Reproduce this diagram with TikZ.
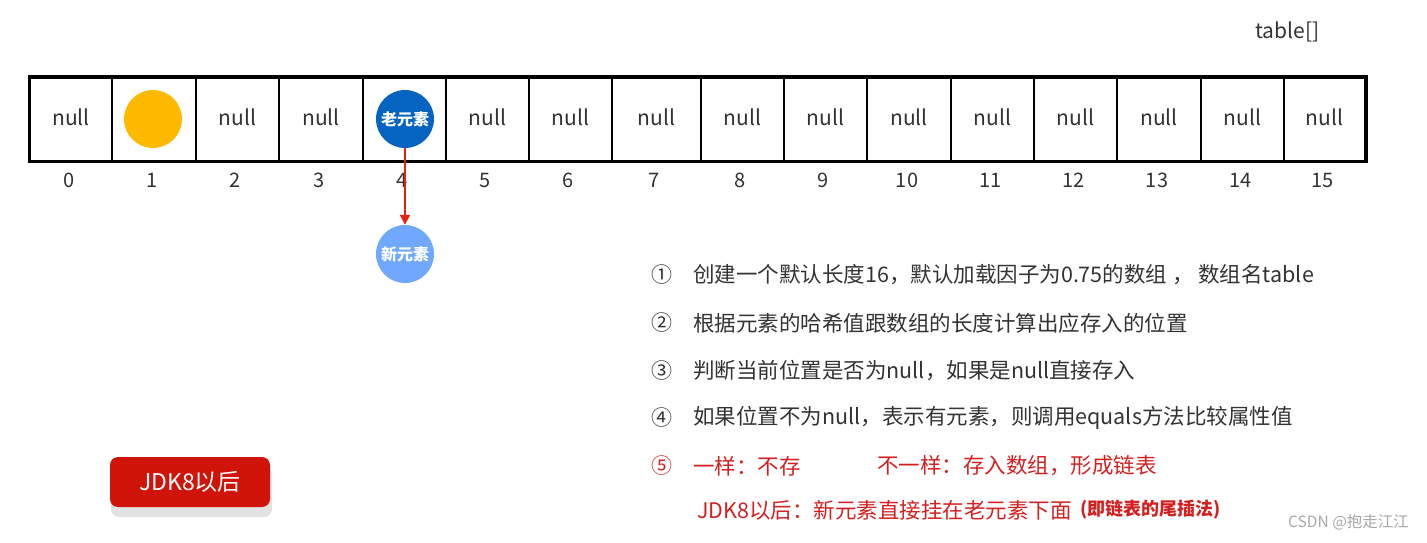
\documentclass[tikz,border=0pt]{standalone}
\usepackage{fontspec}
\setmainfont{Noto Sans CJK SC}
\usetikzlibrary{arrows.meta}
\definecolor{txt}{HTML}{333333}
\definecolor{yel}{HTML}{FFBA00}
\definecolor{oldblue}{HTML}{0563C1}
\definecolor{newblue}{HTML}{6FA8FC}
\definecolor{redtxt}{HTML}{D42020}
\definecolor{arrred}{HTML}{E82010}
\definecolor{btnred}{HTML}{D0140A}
\definecolor{shadowgray}{HTML}{E2E2E2}
\definecolor{wm}{HTML}{A8A8A8}
\tikzset{
  cell/.style={draw=black, line width=2pt, inner sep=0pt, minimum height=83pt},
  celltext/.style={text=txt, font=\fontsize{21}{21}\selectfont, inner sep=0pt},
  idx/.style={text=txt, font=\fontsize{20}{20}\selectfont, inner sep=0pt},
  ball/.style={circle, inner sep=0pt, minimum size=58pt, text=white, font=\fontsize{16}{16}\selectfont\bfseries},
  item/.style={anchor=west, inner sep=0pt, text=txt, font=\fontsize{21.5}{21.5}\selectfont},
  num/.style={anchor=center, inner sep=0pt, text=txt, font=\fontsize{21}{21}\selectfont},
  link/.style={draw=arrred, line width=2pt, -{Triangle[length=10pt,width=10pt]}},
}
\begin{document}
\begin{tikzpicture}[x=1pt,y=-1pt]
\useasboundingbox (0,0) rectangle (1427,542);
% cells
\foreach \i/\a/\b in {0/30/112,1/112/196,2/196/279,3/279/363,4/363/446,5/446/529,6/529/612,7/612/701,8/701/784,9/784/867,10/867/951,11/951/1034,12/1034/1117,13/1117/1201,14/1201/1284,15/1284/1365}{
  \node[cell, minimum width={(\b-\a)*1pt}] (c\i) at ({(\a+\b)/2},119) {};
  \node[idx] (i\i) at ({(\a+\b)/2-2},180) {\i};
}
\draw[line width=3pt] (c0.north west) rectangle (c15.south east);
\foreach \i in {0,2,3,5,6,7,8,9,10,11,12,13,14,15}{
  \node[celltext] (n\i) at ([yshift=2pt]c\i.center) {null};
}
\node[ball, fill=yel] (yb) at (153,119) {};
\node[ball, fill=oldblue] (old) at (405,119) {老元素};
\node[ball, fill=newblue] (new) at (405,254) {新元素};
\draw[link] (old) -- (new);
% title
\node[celltext, anchor=west] (tbl) at (1255,32) {table[]};
% list
\node[num] (k1) at (662,275) {①};
\node[item] (t1) at (693,275) {创建一个默认长度16，默认加载因子为0.75的数组 ， 数组名table};
\node[num] (k2) at (662,323) {②};
\node[item] (t2) at (693,323) {根据元素的哈希值跟数组的长度计算出应存入的位置};
\node[num] (k3) at (662,371) {③};
\node[item] (t3) at (693,371) {判断当前位置是否为null，如果是null直接存入};
\node[num] (k4) at (662,418) {④};
\node[item] (t4) at (693,418) {如果位置不为null，表示有元素，则调用equals方法比较属性值};
\node[num, text=redtxt] (k5) at (662,466) {⑤};
\node[item, text=redtxt] (t5a) at (693,466) {一样：不存};
\node[item, text=redtxt] (t5b) at (877,466) {不一样：存入数组，形成链表};
\node[item, text=redtxt] (t6) at (697,510) {JDK8以后：新元素直接挂在老元素下面};
\node[item, text=redtxt, font=\fontsize{18}{18}\selectfont\bfseries] (t7) at (1080,510) {(即链表的尾插法)};
% button
\fill[shadowgray, rounded corners=8pt] (111,466) rectangle (272,517);
\node[fill=btnred, rounded corners=8pt, minimum width=160pt, minimum height=50pt, inner sep=0pt, text=white, font=\fontsize{23}{23}\selectfont] (btn) at (190,482) {JDK8以后};
% watermark
\node[anchor=west, inner sep=0pt, text=wm, font=\fontsize{15.5}{15.5}\selectfont] (wmk) at (1288,522) {CSDN @抱走江江};
\end{tikzpicture}
\end{document}
